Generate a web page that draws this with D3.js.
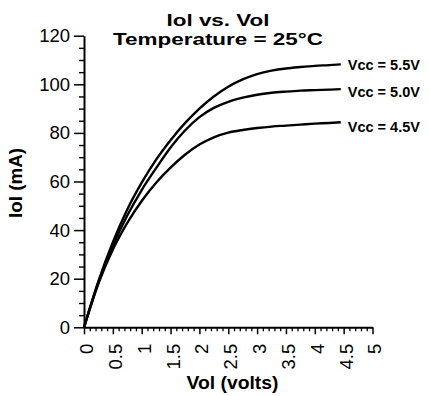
<!DOCTYPE html>
<html>
<head>
<meta charset="utf-8">
<script src="https://cdn.jsdelivr.net/npm/d3@7"></script>
<style>
  html, body { margin: 0; padding: 0; background: #fff; }
  svg { display: block; }
  text { font-family: "Liberation Sans", Arial, Helvetica, sans-serif; fill: #000; }
</style>
</head>
<body>
<svg id="chart" width="430" height="396"></svg>
<script>
// Output voltage (V) sample points shared by all curves
const vol = [0, 0.25, 0.5, 0.75, 1, 1.25, 1.5, 1.75, 2, 2.25, 2.5, 2.75, 3, 3.25, 3.5, 3.75, 4, 4.25, 4.45];

// Output low current (mA) for each supply voltage
const iol55 = [0, 19, 35, 48.5, 59.5, 69, 77, 84, 90, 95, 99, 102, 104.2, 105.6, 106.5, 107.1, 107.6, 107.9, 108.2];
const iol50 = [0, 18.5, 33.5, 46, 56.5, 65.5, 74, 81, 86.5, 90.3, 92.8, 94.5, 95.7, 96.5, 97, 97.4, 97.6, 97.8, 98];
const iol45 = [0, 18, 32, 43, 52, 59.5, 65.7, 71, 75.2, 78.2, 80.1, 81.2, 82, 82.6, 83, 83.4, 83.8, 84.1, 84.4];

const seriesLabels = ["Vcc = 5.5V", "Vcc = 5.0V", "Vcc = 4.5V"];
const seriesValues = [iol55, iol50, iol45];
// vertical nudges (px) so the labels sit clear of each other
const labelOffsets = [1, 3, 5];

const titleLines = ["Iol vs. Vol", "Temperature = 25°C"];

const xMajor = [0, 0.5, 1, 1.5, 2, 2.5, 3, 3.5, 4, 4.5, 5];
const yMajor = [0, 20, 40, 60, 80, 100, 120];

const svg = d3.select("#chart");

const x = d3.scaleLinear().domain([0, 5]).range([84, 372.5]);
const y = d3.scaleLinear().domain([0, 120]).range([327.3, 35.7]);

// Two-line title
svg.append("text").attr("x", 218).attr("y", 25.5)
  .attr("text-anchor", "middle").attr("font-weight", "bold").attr("font-size", 17)
  .attr("textLength", 103).attr("lengthAdjust", "spacingAndGlyphs")
  .text(titleLines[0]);
svg.append("text").attr("x", 218).attr("y", 45.2)
  .attr("text-anchor", "middle").attr("font-weight", "bold").attr("font-size", 17.3)
  .attr("textLength", 210).attr("lengthAdjust", "spacingAndGlyphs")
  .text(titleLines[1]);

// Y axis: minor ticks every 5 mA, major every 20 mA
const yMinor = d3.range(0, 121, 5).filter(v => v % 20 !== 0);
svg.append("g").attr("transform", `translate(${x(0)},0)`)
  .call(d3.axisLeft(y).tickValues(yMinor).tickSize(5).tickSizeOuter(0).tickFormat(""))
  .call(g => g.select(".domain").remove())
  .call(g => g.selectAll(".tick line").attr("stroke", "#000").attr("stroke-width", 1.4));

const yAxis = svg.append("g").attr("transform", `translate(${x(0)},0)`)
  .call(d3.axisLeft(y).tickValues(yMajor).tickSize(10).tickSizeOuter(0).tickPadding(4));
yAxis.select(".domain").attr("stroke", "#000").attr("stroke-width", 2);
yAxis.selectAll(".tick line").attr("stroke", "#000").attr("stroke-width", 1.5);
yAxis.selectAll(".tick text").attr("font-size", 18.5)
  .attr("font-family", "Liberation Sans, Arial, sans-serif").attr("fill", "#000");

// X axis: minor ticks every 0.1 V, major every 0.5 V
const xMinor = d3.range(0, 51).map(i => i / 10).filter(v => Math.abs(v * 2 - Math.round(v * 2)) > 1e-6);
svg.append("g").attr("transform", `translate(0,${y(0)})`)
  .call(d3.axisBottom(x).tickValues(xMinor).tickSize(4).tickSizeOuter(0).tickFormat(""))
  .call(g => g.select(".domain").remove())
  .call(g => g.selectAll(".tick line").attr("stroke", "#000").attr("stroke-width", 1.3));

const xAxis = svg.append("g").attr("transform", `translate(0,${y(0)})`)
  .call(d3.axisBottom(x).tickValues(xMajor).tickSize(7).tickSizeOuter(0).tickFormat(d3.format("")));
xAxis.select(".domain").attr("stroke", "#000").attr("stroke-width", 2);
xAxis.selectAll(".tick line").attr("stroke", "#000").attr("stroke-width", 1.5);
xAxis.selectAll(".tick text")
  .attr("font-size", 18.5).attr("font-family", "Liberation Sans, Arial, sans-serif").attr("fill", "#000")
  .attr("text-anchor", "end")
  .attr("transform", "rotate(-90)")
  .attr("x", -16.5).attr("y", 2).attr("dy", "0.35em");

// Axis titles
svg.append("text").attr("x", 232.5).attr("y", 388.5)
  .attr("text-anchor", "middle").attr("font-weight", "bold").attr("font-size", 17.5)
  .attr("textLength", 92).attr("lengthAdjust", "spacingAndGlyphs")
  .text("Vol (volts)");
svg.append("text").attr("transform", "translate(22,183) rotate(-90)")
  .attr("text-anchor", "middle").attr("font-weight", "bold").attr("font-size", 17.5)
  .attr("textLength", 70).attr("lengthAdjust", "spacingAndGlyphs")
  .text("Iol (mA)");

// Curves
const line = d3.line()
  .x((d, i) => x(vol[i]))
  .y(d => y(d))
  .curve(d3.curveMonotoneX);

svg.append("g").selectAll("path")
  .data(seriesValues)
  .join("path")
  .attr("d", line)
  .attr("fill", "none")
  .attr("stroke", "#000")
  .attr("stroke-width", 2.4)
  .attr("stroke-linejoin", "round");

// Curve labels at the right end of each curve
svg.append("g").selectAll("text")
  .data(seriesLabels)
  .join("text")
  .attr("x", x(vol[vol.length - 1]) + 7)
  .attr("y", (d, i) => y(seriesValues[i][vol.length - 1]) + labelOffsets[i])
  .attr("dy", "0.35em")
  .attr("font-weight", "bold")
  .attr("font-size", 14.5)
  .text(d => d);
</script>
</body>
</html>
